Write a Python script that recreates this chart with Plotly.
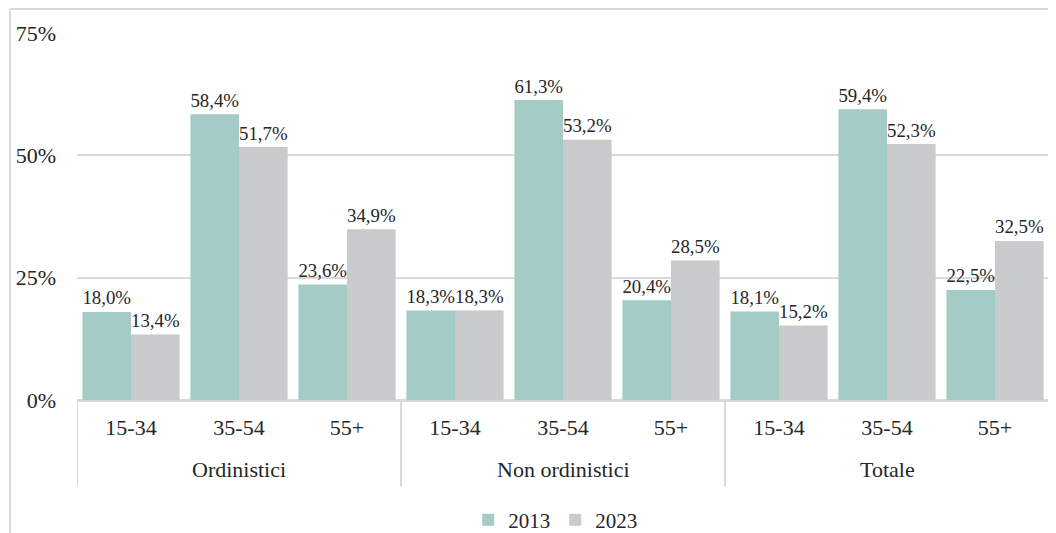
"""Grouped bar chart: share by age band, 2013 vs 2023."""

import plotly.graph_objects as go

groups = ["Ordinistici", "Non ordinistici", "Totale"]
age_bands = ["15-34", "35-54", "55+"]

values_2013 = [18.0, 58.4, 23.6, 18.3, 61.3, 20.4, 18.1, 59.4, 22.5]
values_2023 = [13.4, 51.7, 34.9, 18.3, 53.2, 28.5, 15.2, 52.3, 32.5]

y_ticks = [0, 25, 50, 75]
y_labels = ["0%", "25%", "50%", "75%"]

COLOR_2013 = "#a5cbc7"
COLOR_2023 = "#c9cacc"
GRID = "#d9d9d9"
FONT = "Liberation Serif, Times New Roman, serif"

# numeric positions so repeated age bands stay separate
n_bands = len(age_bands)
x_pos = list(range(len(groups) * n_bands))
x_text = age_bands * len(groups)

fig = go.Figure()
for name, vals, color in [
    ("2013", values_2013, COLOR_2013),
    ("2023", values_2023, COLOR_2023),
]:
    fig.add_trace(
        go.Bar(
            x=x_pos,
            y=vals,
            name=name,
            marker=dict(color=color, line=dict(width=0)),
            texttemplate="%{y:.1f}%",
            textposition="outside",
            textfont=dict(family=FONT, size=21, color="#262626"),
            cliponaxis=False,
        )
    )

# group labels below the age bands, and divider lines between groups
annotations = [
    dict(text=g, x=i * n_bands + (n_bands - 1) / 2, xref="x",
         y=-0.19, yref="paper", yanchor="middle", showarrow=False,
         font=dict(family=FONT, size=22, color="#262626"))
    for i, g in enumerate(groups)
]

shapes = [
    dict(type="line", xref="x", yref="paper",
         x0=i * n_bands - 0.5, x1=i * n_bands - 0.5, y0=0, y1=-0.234,
         line=dict(color=GRID, width=2))
    for i in range(len(groups) + 1)
]
# chart-area border (left and top edges)
shapes += [
    dict(type="line", xref="paper", yref="paper",
         x0=-0.0689, x1=-0.0689, y0=-0.5, y1=1.0654,
         line=dict(color=GRID, width=2)),
    dict(type="line", xref="paper", yref="paper",
         x0=-0.0689, x1=1.0, y0=1.0654, y1=1.0654,
         line=dict(color=GRID, width=2)),
]

# the page body adds an 8px margin, so the figure is a bit smaller
fig.update_layout(
    barmode="group",
    bargap=0.1,
    bargroupgap=0,
    separators=",.",
    width=1048,
    height=525,
    margin=dict(l=69, r=7, t=25, b=133, autoexpand=False),
    paper_bgcolor="white",
    plot_bgcolor="white",
    font=dict(family=FONT, size=22, color="#262626"),
    showlegend=True,
    legend=dict(
        orientation="h",
        x=0.492,
        xanchor="center",
        y=-0.327,
        yanchor="middle",
        font=dict(family=FONT, size=21),
    ),
    xaxis=dict(
        range=[-0.5, len(x_pos) - 0.5],
        tickvals=x_pos,
        ticktext=x_text,
        showline=True,
        linecolor=GRID,
        linewidth=2,
        ticks="",
        showgrid=False,
        zeroline=False,
        ticklabelstandoff=7,
        automargin=False,
        tickfont=dict(family=FONT, size=22),
    ),
    yaxis=dict(
        range=[0, 75],
        tickvals=y_ticks,
        ticktext=y_labels,
        showgrid=True,
        gridcolor=GRID,
        gridwidth=2,
        zeroline=True,
        zerolinecolor=GRID,
        zerolinewidth=2,
        ticks="",
        ticklabelstandoff=20,
        automargin=False,
        tickfont=dict(family=FONT, size=22),
    ),
    shapes=shapes,
    annotations=annotations,
)

fig.write_html("out.html")
